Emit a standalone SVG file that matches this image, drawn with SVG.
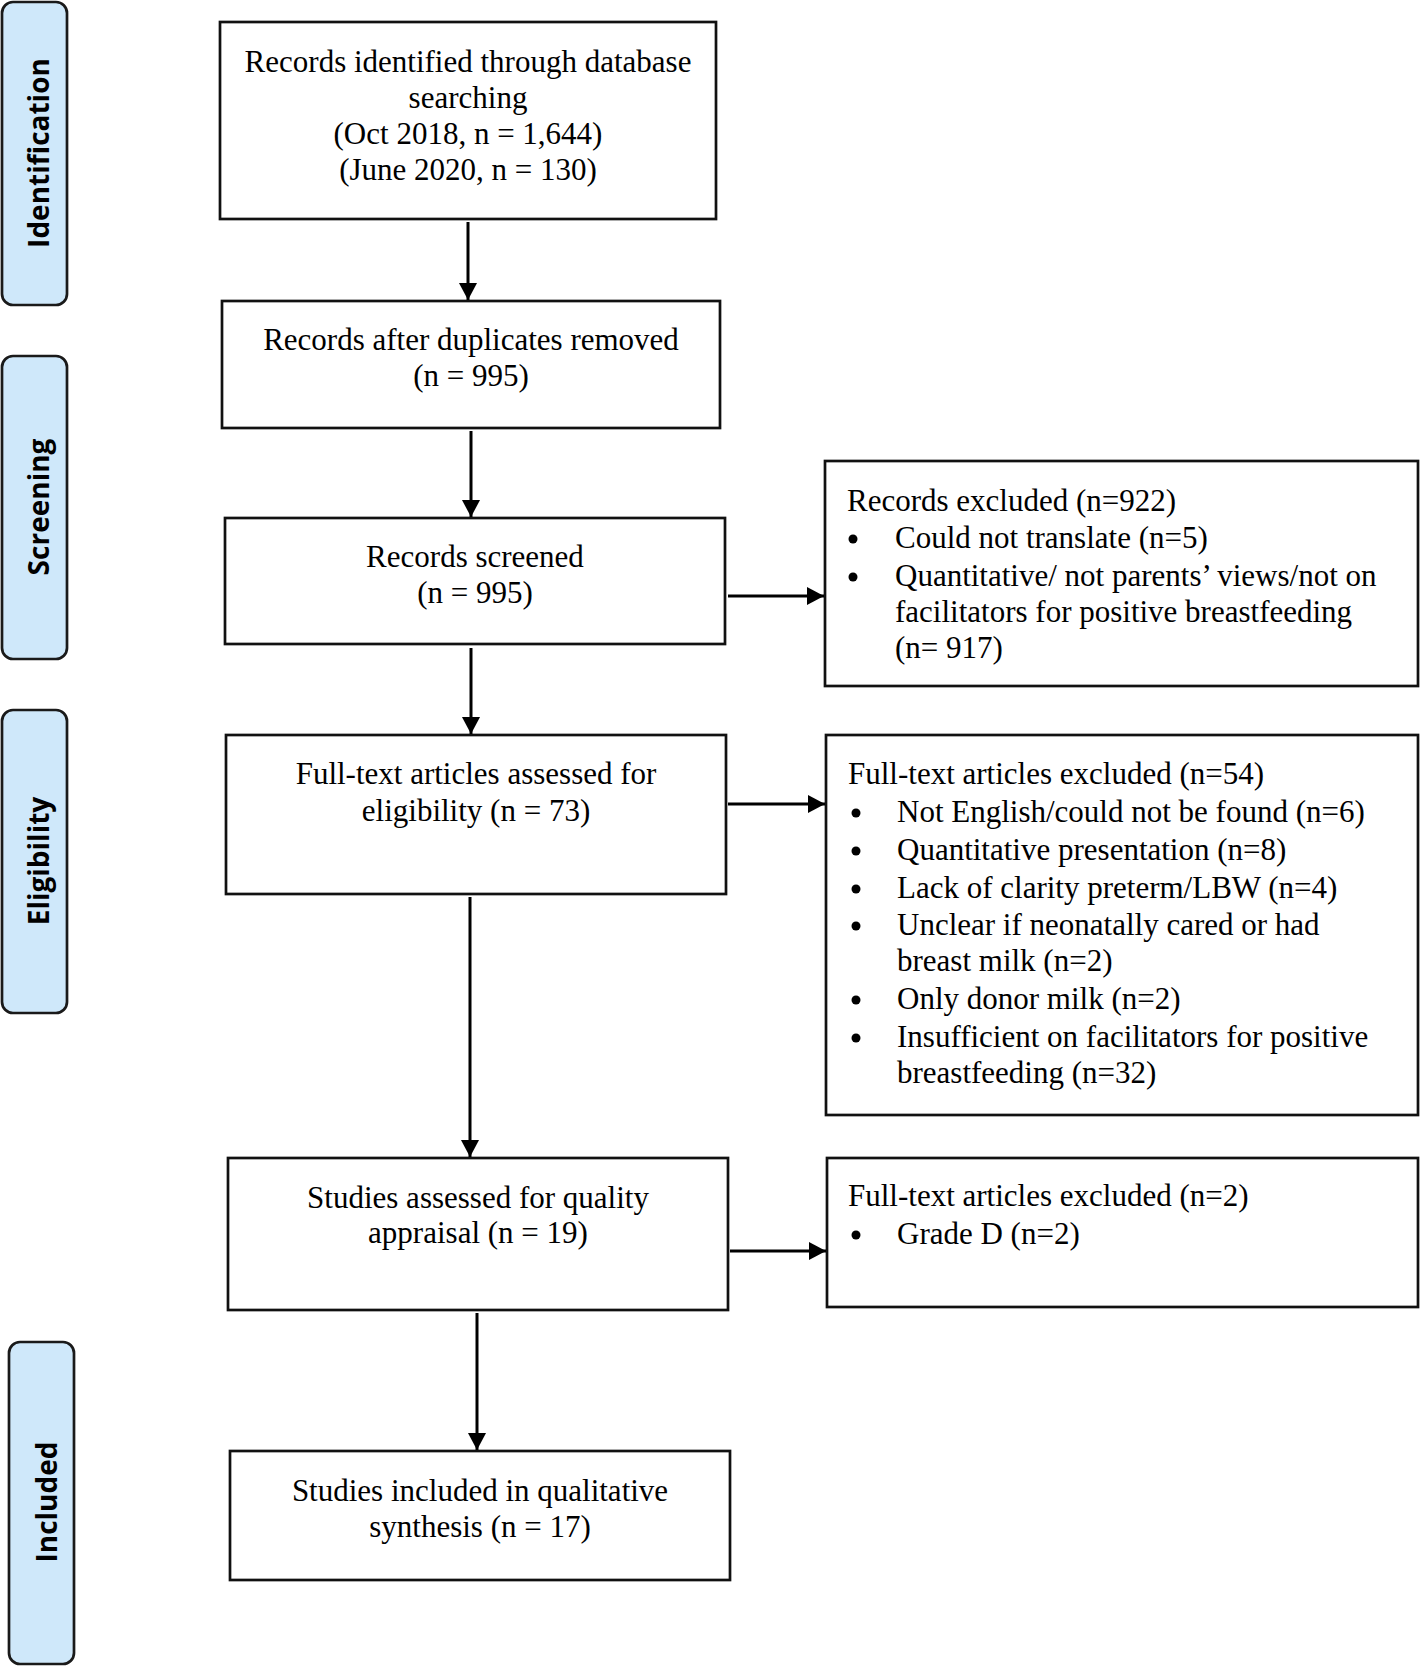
<svg xmlns="http://www.w3.org/2000/svg" width="1420" height="1667" viewBox="0 0 1420 1667">
<style>
.bg{fill:#ffffff}
.box{fill:#ffffff;stroke:#111111;stroke-width:2.7}
.tab{fill:#cfe8fa;stroke:#1a1a1a;stroke-width:2.7}
.t{font-family:"Liberation Serif","Times New Roman",serif;font-size:31px;fill:#000000}
.c{text-anchor:middle}
.tabt{font-family:"Open Sans","Liberation Sans",sans-serif;font-weight:bold;font-size:28px;fill:#000000;text-anchor:middle}
.ln{stroke:#000000;stroke-width:3;fill:none;marker-end:url(#ah)}
.dot{fill:#000000}
</style>
<defs>
<marker id="ah" viewBox="0 0 17 18" refX="17" refY="9" markerWidth="17" markerHeight="18" markerUnits="userSpaceOnUse" orient="auto">
<path d="M0,0 L17,9 L0,18 Z" fill="#000000"/>
</marker>
</defs>
<rect class="bg" x="0" y="0" width="1420" height="1667"/>

<g id="tab-identification">
<rect class="tab" x="2" y="2" width="65" height="303" rx="11"/>
<text class="tabt" transform="translate(49,153) rotate(-90)">Identification</text>
</g>
<g id="tab-screening">
<rect class="tab" x="2" y="356" width="65" height="303" rx="11"/>
<text class="tabt" transform="translate(49,507) rotate(-90)">Screening</text>
</g>
<g id="tab-eligibility">
<rect class="tab" x="2" y="710" width="65" height="303" rx="11"/>
<text class="tabt" transform="translate(49,861) rotate(-90)">Eligibility</text>
</g>
<g id="tab-included">
<rect class="tab" x="9" y="1342" width="65" height="322" rx="11"/>
<text class="tabt" transform="translate(57,1502) rotate(-90)">Included</text>
</g>

<g id="n-identified">
<rect class="box" x="220" y="22" width="496" height="197"/>
<text class="t c" x="468" y="72">Records identified through database</text>
<text class="t c" x="468" y="108">searching</text>
<text class="t c" x="468" y="144">(Oct 2018, n = 1,644)</text>
<text class="t c" x="468" y="180">(June 2020, n = 130)</text>
</g>
<g id="n-duplicates">
<rect class="box" x="222" y="301" width="498" height="127"/>
<text class="t c" x="471" y="350">Records after duplicates removed</text>
<text class="t c" x="471" y="386">(n = 995)</text>
</g>
<g id="n-screened">
<rect class="box" x="225" y="518" width="500" height="126"/>
<text class="t c" x="475" y="567">Records screened</text>
<text class="t c" x="475" y="603">(n = 995)</text>
</g>
<g id="n-fulltext">
<rect class="box" x="226" y="735" width="500" height="159"/>
<text class="t c" x="476" y="784">Full-text articles assessed for</text>
<text class="t c" x="476" y="821">eligibility (n = 73)</text>
</g>
<g id="n-quality">
<rect class="box" x="228" y="1158" width="500" height="152"/>
<text class="t c" x="478" y="1208">Studies assessed for quality</text>
<text class="t c" x="478" y="1243">appraisal (n = 19)</text>
</g>
<g id="n-included">
<rect class="box" x="230" y="1451" width="500" height="129"/>
<text class="t c" x="480" y="1501">Studies included in qualitative</text>
<text class="t c" x="480" y="1537">synthesis (n = 17)</text>
</g>

<g id="n-excluded-records">
<rect class="box" x="825" y="461" width="593" height="225"/>
<text class="t" x="847" y="511">Records excluded (n=922)</text>
<circle class="dot" cx="853" cy="539" r="4.5"/>
<text class="t" x="895" y="548">Could not translate (n=5)</text>
<circle class="dot" cx="853" cy="577" r="4.5"/>
<text class="t" x="895" y="586">Quantitative/ not parents’ views/not on</text>
<text class="t" x="895" y="622">facilitators for positive breastfeeding</text>
<text class="t" x="895" y="658">(n= 917)</text>
</g>
<g id="n-excluded-fulltext">
<rect class="box" x="826" y="735" width="592" height="380"/>
<text class="t" x="848" y="784">Full-text articles excluded (n=54)</text>
<circle class="dot" cx="856" cy="813" r="4.5"/>
<text class="t" x="897" y="822">Not English/could not be found (n=6)</text>
<circle class="dot" cx="856" cy="851" r="4.5"/>
<text class="t" x="897" y="860">Quantitative presentation (n=8)</text>
<circle class="dot" cx="856" cy="889" r="4.5"/>
<text class="t" x="897" y="898">Lack of clarity preterm/LBW (n=4)</text>
<circle class="dot" cx="856" cy="926" r="4.5"/>
<text class="t" x="897" y="935">Unclear if neonatally cared or had</text>
<text class="t" x="897" y="971">breast milk (n=2)</text>
<circle class="dot" cx="856" cy="1000" r="4.5"/>
<text class="t" x="897" y="1009">Only donor milk (n=2)</text>
<circle class="dot" cx="856" cy="1038" r="4.5"/>
<text class="t" x="897" y="1047">Insufficient on facilitators for positive</text>
<text class="t" x="897" y="1083">breastfeeding (n=32)</text>
</g>
<g id="n-excluded-quality">
<rect class="box" x="827" y="1158" width="591" height="149"/>
<text class="t" x="848" y="1206">Full-text articles excluded (n=2)</text>
<circle class="dot" cx="856" cy="1235" r="4.5"/>
<text class="t" x="897" y="1244">Grade D (n=2)</text>
</g>

<g id="connectors">
<line class="ln" x1="468" y1="222" x2="468" y2="300"/>
<line class="ln" x1="471" y1="431" x2="471" y2="517"/>
<line class="ln" x1="471" y1="648" x2="471" y2="734"/>
<line class="ln" x1="470" y1="897" x2="470" y2="1157"/>
<line class="ln" x1="477" y1="1313" x2="477" y2="1450"/>
<line class="ln" x1="728" y1="596" x2="824" y2="596"/>
<line class="ln" x1="728" y1="804" x2="825" y2="804"/>
<line class="ln" x1="730" y1="1251" x2="826" y2="1251"/>
</g>
</svg>
